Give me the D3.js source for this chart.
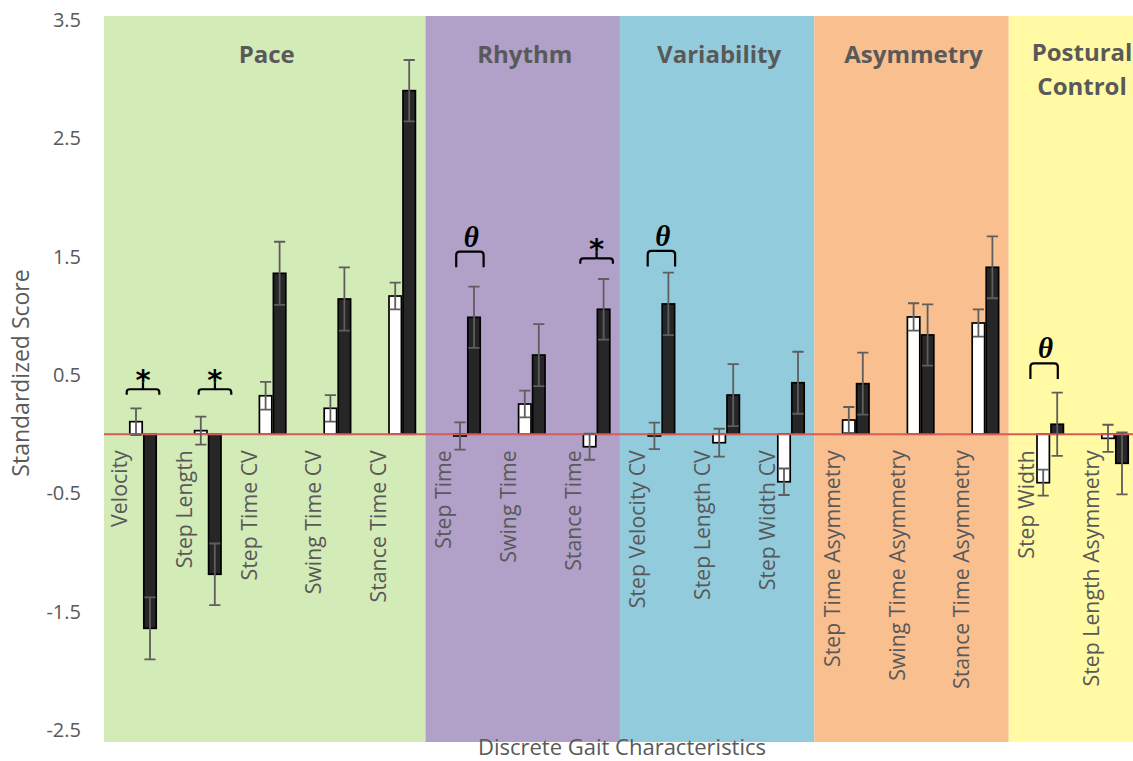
<!DOCTYPE html>
<html>
<head>
<meta charset="utf-8">
<script src="https://cdn.jsdelivr.net/npm/d3@7"></script>
<style>
  html, body { margin: 0; padding: 0; background: #fff; }
  svg { display: block; font-family: "Open Sans", sans-serif; }
</style>
</head>
<body>
<svg id="chart" width="1133" height="761"></svg>
<script>
/* ---------------- data ---------------- */
const categories = [
  "Velocity", "Step Length", "Step Time CV", "Swing Time CV", "Stance Time CV",
  "Step Time", "Swing Time", "Stance Time",
  "Step Velocity CV", "Step Length CV", "Step Width CV",
  "Step Time Asymmetry", "Swing Time Asymmetry", "Stance Time Asymmetry",
  "Step Width", "Step Length Asymmetry"
];
const groups = ["Pace", "Rhythm", "Variability", "Asymmetry", "Postural Control"];
const groupSizes = [5, 3, 3, 3, 2];

const whiteValues = [0.106, 0.030, 0.325, 0.219, 1.168, -0.015, 0.255, -0.106,
                     -0.015, -0.072, -0.402, 0.120, 0.991, 0.940, -0.410, -0.035];
const whiteErr    = [0.113, 0.118, 0.118, 0.112, 0.113, 0.115, 0.113, 0.110,
                     0.112, 0.118, 0.112, 0.110, 0.116, 0.116, 0.110, 0.115];
const blackValues = [-1.641, -1.184, 1.360, 1.143, 2.904, 0.988, 0.669, 1.056,
                     1.101, 0.331, 0.435, 0.427, 0.839, 1.411, 0.084, -0.246];
const blackErr    = [0.262, 0.260, 0.267, 0.268, 0.259, 0.259, 0.262, 0.256,
                     0.264, 0.262, 0.262, 0.262, 0.259, 0.262, 0.267, 0.262];

const yTicks = [3.5, 2.5, 1.5, 0.5, -0.5, -1.5, -2.5];

// significance marks: bracket level in score units, shift in category units
const marks = [
  { cat: "Velocity", sym: "*", level: 0.38, shift: 0 },
  { cat: "Step Length", sym: "*", level: 0.38, shift: 0.11 },
  { cat: "Step Time", sym: "θ", level: 1.543, shift: 0.045 },
  { cat: "Stance Time", sym: "*", level: 1.487, shift: 0 },
  { cat: "Step Velocity CV", sym: "θ", level: 1.549, shift: 0 },
  { cat: "Step Width", sym: "θ", level: 0.599, shift: -0.094 }
];

/* ---------------- styling ---------------- */
const bandColors = ["#d3ebb7", "#b1a0c7", "#92cbdc", "#f9bf8f", "#fffaa3"];
const textGray = "#595959";
const errGray = "#5e5e5e";

/* ---------------- layout ---------------- */
const W = 1133, H = 761;
const plotLeft = 104, plotTop = 16, plotBottom = 742;
const svg = d3.select("#chart");

const x = d3.scaleBand().domain(categories).range([110.6, 1147.4]).paddingInner(0).paddingOuter(0);
const step = x.step();
const cx = (c) => x(c) + x.bandwidth() / 2;

const y = d3.scaleLinear().domain([-2.5, 3.5]).range([729.95, 20.15]);

const barW = 12.4, gap = 1.6;

/* ---------------- background bands ---------------- */
let start = 0;
const bands = groups.map((g, i) => {
  const first = categories[start];
  const next = categories[start + groupSizes[i]];
  const x0 = i === 0 ? plotLeft : x(first) - 0.14 * step;
  const x1 = next ? x(next) - 0.14 * step : x.range()[1];
  start += groupSizes[i];
  return { name: g, x0, x1, color: bandColors[i] };
});

svg.append("g").selectAll("rect")
  .data(bands).join("rect")
  .attr("x", (d) => d.x0)
  .attr("y", plotTop)
  .attr("width", (d) => d.x1 - d.x0)
  .attr("height", plotBottom - plotTop)
  .attr("fill", (d) => d.color);

/* group titles */
const titles = svg.append("g")
  .attr("font-weight", 700)
  .attr("font-size", 24)
  .attr("fill", textGray)
  .attr("text-anchor", "middle");

bands.forEach((b) => {
  const mid = (b.x0 + b.x1) / 2 + 2;
  const words = b.name.split(" ");
  const t = titles.append("text").attr("x", mid).attr("y", 61);
  if (words.length === 1) {
    t.text(b.name).attr("y", 63);
  } else {
    words.forEach((w, i) => {
      t.append("tspan").attr("x", mid + 2).attr("dy", i === 0 ? 0 : 34).text(w);
    });
  }
});

/* ---------------- y axis ---------------- */
const yAxis = svg.append("g")
  .attr("transform", `translate(${plotLeft},0)`)
  .call(d3.axisLeft(y).tickValues(yTicks).tickSize(0).tickPadding(23)
    .tickFormat((d) => d.toFixed(1)));
yAxis.select(".domain").remove();
yAxis.selectAll("text")
  .attr("font-family", "Open Sans, sans-serif")
  .attr("font-size", 20)
  .attr("fill", textGray);

svg.append("text")
  .attr("transform", `translate(29,373) rotate(-90)`)
  .attr("text-anchor", "middle")
  .attr("font-size", 23)
  .attr("fill", textGray)
  .text("Standardized Score");

svg.append("text")
  .attr("x", 622)
  .attr("y", 755)
  .attr("text-anchor", "middle")
  .attr("font-size", 22)
  .attr("fill", textGray)
  .text("Discrete Gait Characteristics");

/* ---------------- category labels ---------------- */
svg.append("g").selectAll("text")
  .data(categories).join("text")
  .attr("transform", (d) => `translate(${cx(d) - 23},${y(0) + 16}) rotate(-90)`)
  .attr("text-anchor", "end")
  .attr("dy", "0.33em")
  .attr("font-size", 21.3)
  .attr("fill", textGray)
  .text((d) => d);

/* ---------------- bars ---------------- */
const rows = categories.map((c, i) => ({
  cat: c,
  w: whiteValues[i], we: whiteErr[i],
  b: blackValues[i], be: blackErr[i]
}));

const bars = svg.append("g");

bars.selectAll("rect.white")
  .data(rows).join("rect")
  .attr("class", "white")
  .attr("x", (d) => cx(d.cat) - gap / 2 - barW)
  .attr("y", (d) => y(Math.max(0, d.w)))
  .attr("width", barW)
  .attr("height", (d) => Math.abs(y(d.w) - y(0)))
  .attr("fill", "#ffffff")
  .attr("stroke", "#000")
  .attr("stroke-width", 1.7);

bars.selectAll("rect.black")
  .data(rows).join("rect")
  .attr("class", "black")
  .attr("x", (d) => cx(d.cat) + gap / 2)
  .attr("y", (d) => y(Math.max(0, d.b)))
  .attr("width", barW)
  .attr("height", (d) => Math.abs(y(d.b) - y(0)))
  .attr("fill", "#262626")
  .attr("stroke", "#000")
  .attr("stroke-width", 1.7);

/* zero line */
svg.append("line")
  .attr("x1", plotLeft).attr("x2", W)
  .attr("y1", y(0)).attr("y2", y(0))
  .attr("stroke", "#d45d5a")
  .attr("stroke-width", 2);

/* ---------------- error bars ---------------- */
const errData = [];
rows.forEach((d) => {
  errData.push({ x: cx(d.cat) - gap / 2 - barW / 2, v: d.w, e: d.we });
  errData.push({ x: cx(d.cat) + gap / 2 + barW / 2, v: d.b, e: d.be });
});
const cap = 5.6;
const errPath = (d) => {
  const yt = y(d.v + d.e), yb = y(d.v - d.e);
  return `M${d.x},${yt}V${yb}M${d.x - cap},${yt}H${d.x + cap}M${d.x - cap},${yb}H${d.x + cap}`;
};
svg.append("g").selectAll("path")
  .data(errData).join("path")
  .attr("d", errPath)
  .attr("fill", "none")
  .attr("stroke", errGray)
  .attr("stroke-width", 1.8);

/* ---------------- significance marks ---------------- */
const markG = svg.append("g").attr("fill", "none").attr("stroke", "#000").attr("stroke-width", 2.2);
const markT = svg.append("g").attr("fill", "#000").attr("text-anchor", "middle");

marks.forEach((m) => {
  const mx = cx(m.cat) + m.shift * step;
  const my = y(m.level);
  if (m.sym === "*") {
    const hw = 16.3, r = 3;
    markG.append("path").attr("d",
      `M${mx - hw},${my + 5.5}V${my + r}Q${mx - hw},${my} ${mx - hw + r},${my}` +
      `H${mx - 1.5}Q${mx},${my} ${mx},${my - 1.5}V${my - 7}` +
      `M${mx},${my - 1.5}Q${mx},${my} ${mx + 1.5},${my}` +
      `H${mx + hw - r}Q${mx + hw},${my} ${mx + hw},${my + r}V${my + 5.5}`);
    markT.append("text")
      .attr("x", mx).attr("y", my + 1)
      .attr("font-family", "DejaVu Sans, sans-serif")
      .attr("font-weight", 700)
      .attr("font-size", 29)
      .text("*");
  } else {
    const hw = 13.7, r = 3.5;
    markG.append("path").attr("d",
      `M${mx - hw},${my + 15.6}V${my + r}Q${mx - hw},${my} ${mx - hw + r},${my}` +
      `H${mx + hw - r}Q${mx + hw},${my} ${mx + hw},${my + r}V${my + 15.6}`);
    markT.append("text")
      .attr("x", mx + 1.4).attr("y", my - 5)
      .attr("font-family", "Liberation Serif, serif")
      .attr("font-style", "italic")
      .attr("font-weight", 700)
      .attr("font-size", 29)
      .text("θ");
  }
});
</script>
</body>
</html>
